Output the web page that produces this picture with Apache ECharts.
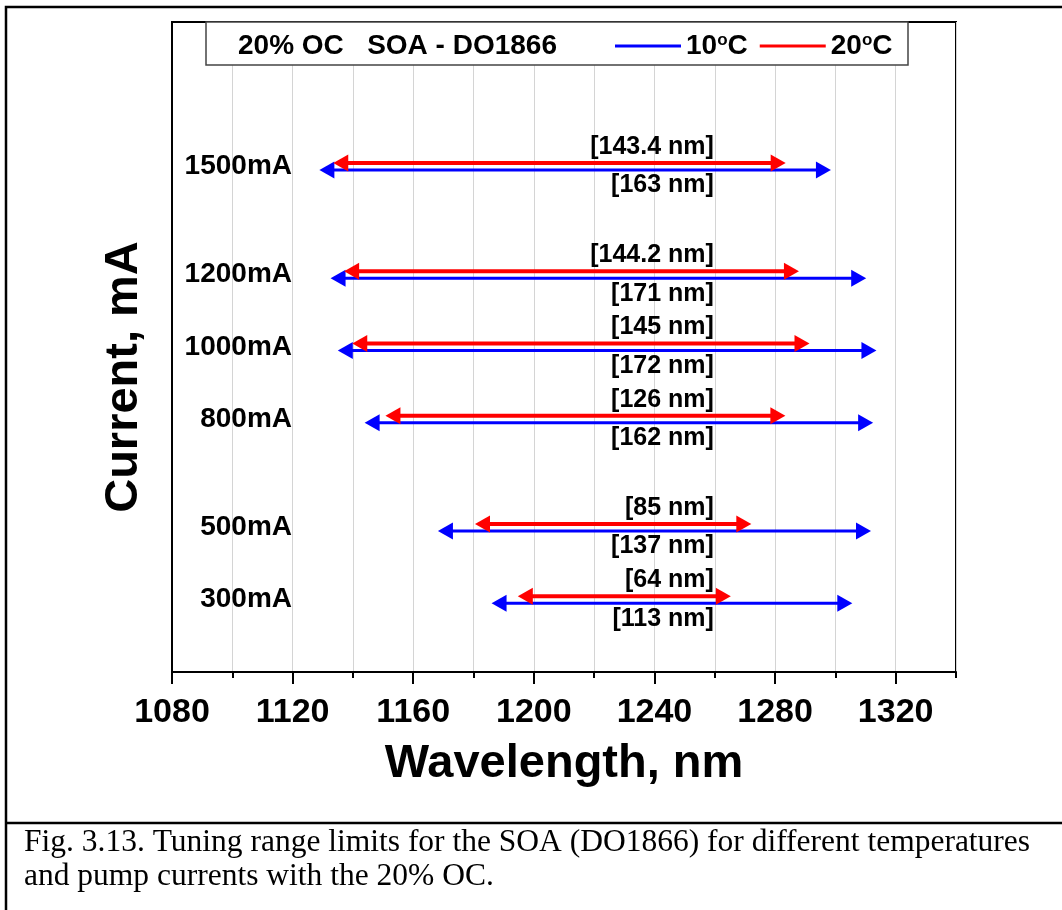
<!DOCTYPE html>
<html>
<head>
<meta charset="utf-8">
<script src="https://cdn.jsdelivr.net/npm/echarts@6/dist/echarts.min.js"></script>
<style>
  html, body { margin: 0; padding: 0; background: #fff; }
  #chart { width: 1062px; height: 910px; }
</style>
</head>
<body>
<div id="chart"></div>
<script>
// Pump currents (mA), one row per current
const currents = [1500, 1200, 1000, 800, 500, 300];

// 10 °C tuning range: short-wavelength limit (nm) and width of the range (nm)
const start10C = [1132.2, 1135.9, 1138.3, 1147.2, 1171.5, 1189.3];
const span10C  = [163, 171, 172, 162, 137, 113];

// 20 °C tuning range: short-wavelength limit (nm) and width of the range (nm)
const start20C = [1136.8, 1140.4, 1143.1, 1154.1, 1183.8, 1198.0];
const span20C  = [143.4, 144.2, 145, 126, 85, 64];

// Labelled wavelength ticks
const wavelengthTicks = [1080, 1120, 1160, 1200, 1240, 1280, 1320];

const seriesNames = ['10°C', '20°C'];
const titleText = '20% OC   SOA - DO1866';
const captionLines = [
  'Fig. 3.13. Tuning range limits for the SOA (DO1866) for different temperatures',
  'and pump currents with the 20% OC.'
];

// wavelength at which the "[... nm]" span labels end
const LABEL_RIGHT_NM = 1259.7;

const SANS = 'Arial, "Liberation Sans", Helvetica, sans-serif';
const SERIF = '"Times New Roman", "Liberation Serif", Times, serif';

function buildRows(starts, spans) {
  return currents.map((c, i) => [starts[i], +(starts[i] + spans[i]).toFixed(1), c, spans[i]]);
}

// double-headed arrow spanning [start, end] at the row's current, with its width label
function arrowRenderer(color, lineWidth, dy, labelDy) {
  return function (params, api) {
    const x0 = api.value(0), x1 = api.value(1), cur = api.value(2), span = api.value(3);
    const p0 = api.coord([x0, cur]);
    const p1 = api.coord([x1, cur]);
    const y = p0[1] + dy;
    const out = 10, back = 5, hh = 8.5;   // head: tip beyond the end point, base inside it
    const lp = api.coord([LABEL_RIGHT_NM, cur]);
    return {
      type: 'group',
      children: [
        { type: 'line', shape: { x1: p0[0] + back - 1, y1: y, x2: p1[0] - back + 1, y2: y },
          style: { stroke: color, lineWidth: lineWidth } },
        { type: 'polygon', shape: { points: [[p0[0] - out, y], [p0[0] + back, y - hh], [p0[0] + back, y + hh]] },
          style: { fill: color } },
        { type: 'polygon', shape: { points: [[p1[0] + out, y], [p1[0] - back, y - hh], [p1[0] - back, y + hh]] },
          style: { fill: color } },
        { type: 'text', style: { text: '[' + span + ' nm]', x: lp[0], y: p0[1] + labelDy,
          align: 'right', verticalAlign: 'middle', font: 'bold 25px ' + SANS, fill: '#000' } }
      ]
    };
  };
}

const chart = echarts.init(document.getElementById('chart'), null, { renderer: 'canvas' });

const axisLineStyle = { color: '#000', width: 2 };

chart.setOption({
  backgroundColor: '#fff',
  animation: false,
  grid: { left: 172, right: 106, top: 22, bottom: 238, show: true, borderColor: '#000', borderWidth: 2 },
  legend: {
    data: seriesNames,
    left: 615, top: 32, padding: 0,
    icon: 'rect', itemWidth: 66, itemHeight: 3, itemGap: 12,
    formatter: n => n.replace('°', '{sup|o}'),
    textStyle: {
      fontSize: 28, fontWeight: 'bold', color: '#000', fontFamily: SANS,
      rich: { sup: { fontSize: 17, fontWeight: 'bold', color: '#000', fontFamily: SANS, verticalAlign: 'top' } }
    },
    z: 6
  },
  xAxis: [
    {
      type: 'value', min: 1080, max: 1340, interval: 20, position: 'bottom',
      axisLine: { lineStyle: axisLineStyle },
      axisTick: { length: 6, lineStyle: axisLineStyle },
      axisLabel: { customValues: wavelengthTicks, formatter: v => String(v), margin: 24,
        fontSize: 34, fontWeight: 'bold', color: '#000', fontFamily: SANS },
      splitLine: { show: true, lineStyle: { color: '#d4d4d4', width: 1 } },
      name: 'Wavelength, nm', nameLocation: 'middle', nameGap: 69,
      nameTextStyle: { fontSize: 47, fontWeight: 'bold', color: '#000', fontFamily: SANS }
    },
    {
      // longer ticks at the labelled wavelengths
      type: 'value', min: 1080, max: 1340, position: 'bottom',
      axisLine: { show: false },
      axisTick: { customValues: wavelengthTicks, length: 12, lineStyle: axisLineStyle },
      axisLabel: { show: false },
      splitLine: { show: false }
    }
  ],
  yAxis: {
    type: 'value', min: 100, max: 1900,
    axisLine: { show: true, lineStyle: axisLineStyle },
    axisTick: { show: false },
    splitLine: { show: false },
    axisLabel: {
      customValues: currents, inside: true, align: 'right', margin: 120,
      formatter: v => v + 'mA', padding: [0, 0, 10, 0],
      fontSize: 28, fontWeight: 'bold', color: '#000', fontFamily: SANS
    },
    name: 'Current, mA', nameLocation: 'middle', nameGap: 24, nameRotate: 90,
    nameTextStyle: { fontSize: 47, fontWeight: 'bold', color: '#000', fontFamily: SANS, padding: [0, 60, 0, 0] }
  },
  graphic: [
    // page frame and caption rule
    { type: 'rect', shape: { x: 6, y: 7, width: 1100, height: 1000 },
      style: { fill: 'none', stroke: '#000', lineWidth: 2.5 }, z: 10, silent: true },
    { type: 'line', shape: { x1: 6, y1: 823, x2: 1062, y2: 823 },
      style: { stroke: '#000', lineWidth: 2.5 }, z: 10, silent: true },
    // legend box with the title text
    { type: 'rect', shape: { x: 206, y: 22, width: 702, height: 43 },
      style: { fill: '#fff', stroke: '#444', lineWidth: 1.5 }, z: 4, silent: true },
    { type: 'text', x: 238, y: 46, z: 5, silent: true,
      style: { text: titleText, font: 'bold 28px ' + SANS, fill: '#000', verticalAlign: 'middle' } },
    // caption
    { type: 'text', x: 24, y: 843, z: 5, silent: true,
      style: { text: captionLines[0], font: '31.5px ' + SERIF, fill: '#000', verticalAlign: 'middle' } },
    { type: 'text', x: 24, y: 877, z: 5, silent: true,
      style: { text: captionLines[1], font: '31.5px ' + SERIF, fill: '#000', verticalAlign: 'middle' } }
  ],
  series: [
    {
      name: seriesNames[0], type: 'custom', xAxisIndex: 1, yAxisIndex: 0,
      itemStyle: { color: '#0000ff' },
      renderItem: arrowRenderer('#0000ff', 3, 3.5, 19),
      data: buildRows(start10C, span10C), z: 2
    },
    {
      name: seriesNames[1], type: 'custom', xAxisIndex: 0, yAxisIndex: 0,
      itemStyle: { color: '#ff0000' },
      renderItem: arrowRenderer('#ff0000', 4, -3.5, -19.5),
      data: buildRows(start20C, span20C), z: 3
    }
  ]
});
</script>
</body>
</html>
